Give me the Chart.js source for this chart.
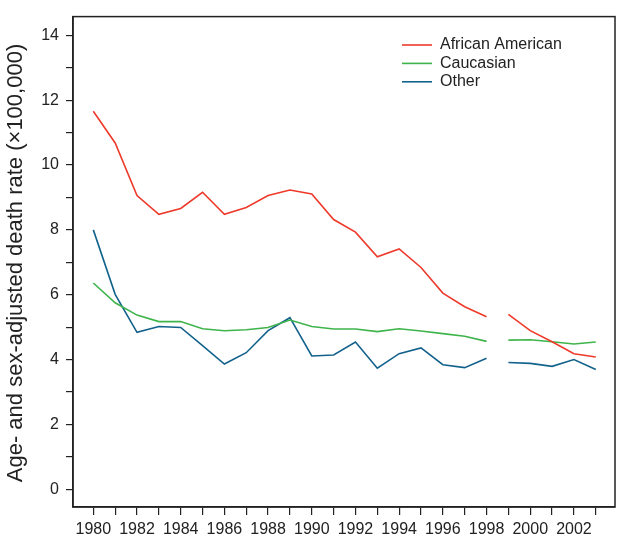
<!DOCTYPE html>
<html>
<head>
<meta charset="utf-8">
<script src="https://cdn.jsdelivr.net/npm/chart.js@4"></script>
<style>
  html, body { margin: 0; padding: 0; background: #fff; }
  #wrap { width: 624px; height: 544px; }
</style>
</head>
<body>
<div id="wrap"><canvas id="chart"></canvas></div>
<script>
const years = [1980, 1981, 1982, 1983, 1984, 1985, 1986, 1987, 1988, 1989, 1990, 1991,
  1992, 1993, 1994, 1995, 1996, 1997, 1998, 1999, 2000, 2001, 2002, 2003];
const africanAmerican = [11.66, 10.68, 9.06, 8.48, 8.66, 9.16, 8.48, 8.69, 9.06, 9.23, 9.11, 8.32,
  7.93, 7.17, 7.41, 6.84, 6.05, 5.63, 5.32, 5.39, 4.89, 4.55, 4.18, 4.08];
const caucasian = [6.36, 5.75, 5.37, 5.17, 5.17, 4.95, 4.89, 4.92, 4.99, 5.22, 5.02, 4.94,
  4.94, 4.86, 4.95, 4.88, 4.80, 4.72, 4.56, 4.60, 4.61, 4.55, 4.48, 4.54];
const other = [8.0, 6.01, 4.84, 5.02, 4.99, 4.43, 3.86, 4.21, 4.89, 5.29, 4.11, 4.14,
  4.54, 3.73, 4.18, 4.36, 3.84, 3.75, 4.04, 3.91, 3.88, 3.79, 4.0, 3.69];
const seriesLabels = ['African American', 'Caucasian', 'Other'];
const seriesColors = ['#ee3a2b', '#3fb44b', '#13628c'];
const gapAfter = 1998; // no line drawn between 1998 and 1999
const yTitle = 'Age- and sex-adjusted death rate (\u00d7100,000)';

const FONT = "'Liberation Sans', Arial, sans-serif";

function toPoints(values) {
  return years.map((yr, i) => ({ x: yr, y: values[i] }));
}

const datasets = [africanAmerican, caucasian, other].map((vals, i) => ({
  label: seriesLabels[i],
  data: toPoints(vals),
  borderColor: seriesColors[i],
  backgroundColor: seriesColors[i],
  borderWidth: 1.6,
  pointRadius: 0,
  tension: 0,
  segment: {
    borderColor: ctx => ctx.p0.parsed.x === gapAfter ? 'rgba(0,0,0,0)' : undefined,
  },
}));

// frame around the plot, the y title and the legend in the upper right
const framePlugin = {
  id: 'frame',
  afterDraw(chart) {
    const { ctx, chartArea: a } = chart;
    ctx.save();
    ctx.strokeStyle = '#222';
    ctx.lineWidth = 1.5;
    ctx.strokeRect(a.left, a.top, a.right - a.left, a.bottom - a.top);

    ctx.fillStyle = '#222';
    ctx.save();
    ctx.translate(16, 263);
    ctx.rotate(-Math.PI / 2);
    ctx.font = '22px ' + FONT;
    ctx.textAlign = 'center';
    ctx.textBaseline = 'middle';
    ctx.fillText(yTitle, 0, 0);
    ctx.restore();

    ctx.font = '16px ' + FONT;
    ctx.textBaseline = 'middle';
    chart.data.datasets.forEach((ds, i) => {
      const y = 45 + i * 18.4;
      ctx.strokeStyle = ds.borderColor;
      ctx.lineWidth = 1.6;
      ctx.beginPath();
      ctx.moveTo(402, y);
      ctx.lineTo(432, y);
      ctx.stroke();
      ctx.fillText(ds.label, 440, y);
    });
    ctx.restore();
  }
};

new Chart(document.getElementById('chart'), {
  type: 'line',
  data: { datasets },
  options: {
    responsive: true,
    maintainAspectRatio: false,
    animation: false,
    layout: { padding: { top: 8, right: 9, left: 0, bottom: 0 } },
    plugins: { legend: { display: false }, tooltip: { enabled: false } },
    scales: {
      x: {
        type: 'linear',
        min: 1979.07,
        max: 2003.88,
        afterFit: s => { s.height = 37; },
        grid: { display: true, drawOnChartArea: false, drawTicks: true, tickLength: 8, color: '#222', lineWidth: 1.2 },
        border: { display: true, color: '#222', width: 1.5 },
        ticks: {
          stepSize: 1,
          includeBounds: false,
          autoSkip: false,
          maxRotation: 0,
          padding: 5,
          color: '#222',
          font: { family: FONT, size: 16 },
          callback: v => (v % 2 === 0 ? String(v) : ''),
        },
      },
      y: {
        min: -0.55,
        max: 14.58,
        afterFit: s => { s.width = 73; },
        grid: { display: true, drawOnChartArea: false, drawTicks: true, tickLength: 7, color: '#222', lineWidth: 1.2 },
        border: { display: true, color: '#222', width: 1.5 },
        ticks: {
          stepSize: 1,
          includeBounds: false,
          autoSkip: false,
          padding: 7,
          color: '#222',
          font: { family: FONT, size: 16 },
          callback: v => (v % 2 === 0 ? String(v) : ''),
        },
      },
    },
  },
  plugins: [framePlugin],
});
</script>
</body>
</html>
